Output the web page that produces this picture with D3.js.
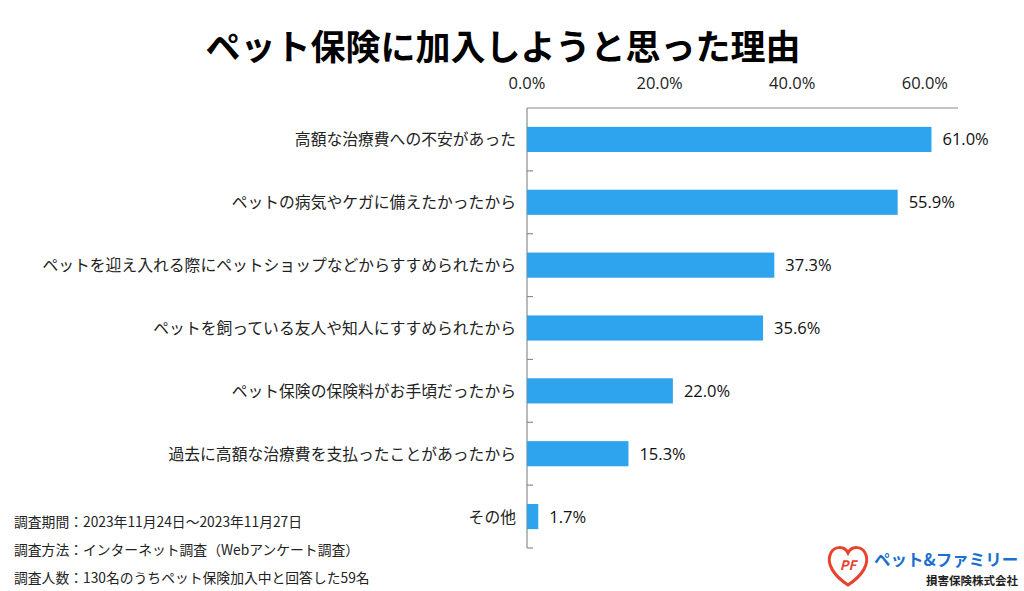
<!DOCTYPE html>
<html lang="ja">
<head>
<meta charset="UTF-8">
<script src="https://cdn.jsdelivr.net/npm/d3@7"></script>
<style>
  body { margin: 0; background: #fff; font-family: "Noto Sans CJK JP", "Noto Sans", sans-serif; }
  svg { display: block; }
</style>
</head>
<body>
<div id="chart"></div>
<script>
// data
const categories = [
  "高額な治療費への不安があった",
  "ペットの病気やケガに備えたかったから",
  "ペットを迎え入れる際にペットショップなどからすすめられたから",
  "ペットを飼っている友人や知人にすすめられたから",
  "ペット保険の保険料がお手頃だったから",
  "過去に高額な治療費を支払ったことがあったから",
  "その他"
];
const values = [61.0, 55.9, 37.3, 35.6, 22.0, 15.3, 1.7];
const ticks = [0, 20, 40, 60];
const notes = [
  "調査期間：2023年11月24日～2023年11月27日",
  "調査方法：インターネット調査（Webアンケート調査）",
  "調査人数：130名のうちペット保険加入中と回答した59名"
];

const W = 1024, H = 591;
const svg = d3.select("#chart").append("svg").attr("width", W).attr("height", H);

// title
svg.append("text")
  .attr("x", 503).attr("y", 60)
  .attr("text-anchor", "middle")
  .style("font-size", "35px").style("font-weight", "bold")
  .text("ペット保険に加入しようと思った理由");

// scales
const x = d3.scaleLinear().domain([0, 65]).range([527, 958]);
const y = d3.scaleBand().domain(categories).range([108, 548]).paddingInner(0.6).paddingOuter(0.3);

// top axis labels
svg.selectAll(".tick-label")
  .data(ticks).enter().append("text")
  .attr("x", d => x(d)).attr("y", 89)
  .attr("text-anchor", "middle")
  .style("font-family", "'Open Sans', sans-serif")
  .style("font-size", "16.5px").style("fill", "#222")
  .text(d => d.toFixed(1) + "%");

// axis lines
svg.append("line")
  .attr("x1", x(0)).attr("x2", x(65)).attr("y1", 108).attr("y2", 108)
  .attr("stroke", "#8c8c8c").attr("stroke-width", 1.2);
svg.append("line")
  .attr("x1", x(0)).attr("x2", x(0)).attr("y1", 108).attr("y2", 548)
  .attr("stroke", "#8c8c8c").attr("stroke-width", 1.2);

// category separators
svg.selectAll(".sep")
  .data(d3.range(1, categories.length + 1)).enter().append("line")
  .attr("x1", x(0)).attr("x2", x(0) + 6)
  .attr("y1", i => 108 + i * (440 / categories.length))
  .attr("y2", i => 108 + i * (440 / categories.length))
  .attr("stroke", "#8c8c8c").attr("stroke-width", 1.2);

// bars
svg.selectAll(".bar")
  .data(values).enter().append("rect")
  .attr("x", x(0))
  .attr("y", (d, i) => y(categories[i]))
  .attr("width", d => x(d) - x(0))
  .attr("height", y.bandwidth())
  .attr("fill", "#2ea3ee");

// value labels
svg.selectAll(".val")
  .data(values).enter().append("text")
  .attr("x", d => x(d) + 11)
  .attr("y", (d, i) => y(categories[i]) + y.bandwidth() / 2 + 6)
  .style("font-family", "'Open Sans', sans-serif")
  .style("font-size", "16.5px").style("fill", "#111")
  .text(d => d.toFixed(1) + "%");

// category labels
svg.selectAll(".cat")
  .data(categories).enter().append("text")
  .attr("x", 516)
  .attr("y", d => y(d) + y.bandwidth() / 2 + 6)
  .attr("text-anchor", "end")
  .style("font-size", "15.8px").style("fill", "#222")
  .text(d => d);

// footnotes
svg.selectAll(".note")
  .data(notes).enter().append("text")
  .attr("x", 14).attr("y", (d, i) => 527 + i * 28)
  .style("font-size", "13.8px").style("fill", "#222")
  .text(d => d);

// logo
const logo = svg.append("g").attr("transform", "translate(828,545)");
logo.append("path")
  .attr("d", "M20,40 C5,30 -1,19 2,10 C5,1 16,0 20,8 C24,0 35,1 38,10 C41,19 35,30 20,40 Z")
  .attr("fill", "none").attr("stroke", "#e8412c").attr("stroke-width", 3);
logo.append("text")
  .attr("x", 20).attr("y", 25).attr("text-anchor", "middle")
  .style("font-size", "13px").style("font-weight", "bold").style("font-style", "italic")
  .style("fill", "#e8412c").text("PF");
logo.append("text")
  .attr("x", 46).attr("y", 21)
  .style("font-size", "16.5px").style("font-weight", "bold").style("fill", "#1a6fd0")
  .text("ペット&ファミリー");
logo.append("text")
  .attr("x", 190).attr("y", 40).attr("text-anchor", "end")
  .style("font-size", "11.5px").style("font-weight", "bold").style("fill", "#222")
  .text("損害保険株式会社");
</script>
</body>
</html>
